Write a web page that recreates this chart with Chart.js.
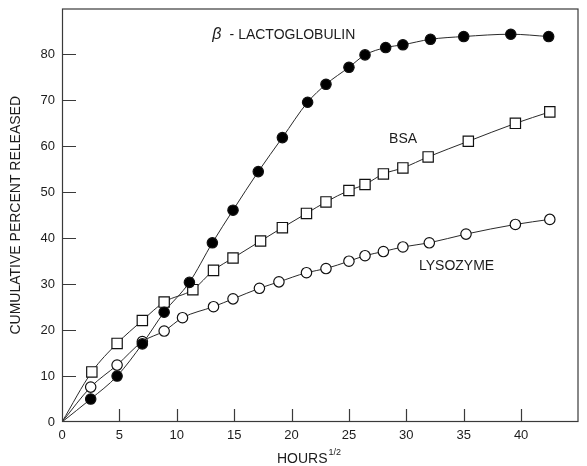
<!DOCTYPE html>
<html>
<head>
<meta charset="utf-8">
<script src="https://cdn.jsdelivr.net/npm/chart.js@4.4.1/dist/chart.umd.min.js"></script>
<style>
  html, body { margin: 0; padding: 0; background: #fff; }
  #wrap { width: 587px; height: 466px; }
</style>
</head>
<body>
<div id="wrap"><canvas id="c" width="587" height="466"></canvas></div>
<script>
// ---- data (x = hours^1/2, y = cumulative percent released) ----
const lactoX = [0, 2.5, 4.8, 7.0, 8.9, 11.1, 13.1, 14.9, 17.1, 19.2, 21.4, 23.0, 25.0, 26.4, 28.2, 29.7, 32.1, 35.0, 39.1, 42.4];
const lactoY = [0, 5.0, 10.0, 17.0, 23.9, 30.4, 39.0, 46.1, 54.5, 61.9, 69.6, 73.5, 77.2, 79.9, 81.5, 82.1, 83.3, 83.9, 84.4, 83.9];
const bsaX   = [0, 2.6, 4.8, 7.0, 8.9, 11.4, 13.2, 14.9, 17.3, 19.2, 21.3, 23.0, 25.0, 26.4, 28.0, 29.7, 31.9, 35.4, 39.5, 42.5];
const bsaY   = [0, 10.9, 17.1, 22.1, 26.1, 28.8, 33.0, 35.7, 39.4, 42.3, 45.4, 47.9, 50.4, 51.7, 54.0, 55.3, 57.7, 61.1, 65.0, 67.5];
const lysoX  = [0, 2.5, 4.8, 7.0, 8.9, 10.5, 13.2, 14.9, 17.2, 18.9, 21.3, 23.0, 25.0, 26.4, 28.0, 29.7, 32.0, 35.2, 39.5, 42.5];
const lysoY  = [0, 7.6, 12.4, 17.5, 19.8, 22.7, 25.1, 26.8, 29.1, 30.5, 32.5, 33.4, 35.0, 36.2, 37.1, 38.1, 39.0, 40.9, 43.0, 44.1];

const xTicks = [0, 5, 10, 15, 20, 25, 30, 35, 40];
const yTicks = [0, 10, 20, 30, 40, 50, 60, 70, 80];

const seriesNames = ['LACTOGLOBULIN', 'BSA', 'LYSOZYME'];
const yTitle = 'CUMULATIVE PERCENT RELEASED';
const xTitle = 'HOURS';
const xTitleSup = '1/2';

function pts(xs, ys) { return xs.map((x, i) => ({ x: x, y: ys[i] })); }

const FONT = '"Liberation Sans", Arial, Helvetica, sans-serif';
const INK = '#1c1c1c';

const frameAndTicks = {
  id: 'frameAndTicks',
  afterDraw(chart) {
    const ctx = chart.ctx;
    const a = chart.chartArea;
    const xs = chart.scales.x, ys = chart.scales.y;
    ctx.save();
    ctx.strokeStyle = '#3a3a3a';
    ctx.lineWidth = 1.2;
    ctx.strokeRect(a.left + 0.5, a.top + 0.5, a.right - a.left - 1, a.bottom - a.top - 1);
    ctx.beginPath();
    yTicks.forEach(v => {
      if (v === 0) return;
      const py = Math.round(ys.getPixelForValue(v)) + 0.5;
      ctx.moveTo(a.left, py); ctx.lineTo(a.left + 14, py);
    });
    xTicks.forEach(v => {
      if (v === 0) return;
      const px = Math.round(xs.getPixelForValue(v)) + 0.5;
      ctx.moveTo(px, a.bottom); ctx.lineTo(px, a.bottom - 13);
    });
    ctx.stroke();

    // x-axis title with superscript
    ctx.fillStyle = INK;
    ctx.textBaseline = 'alphabetic';
    ctx.textAlign = 'left';
    ctx.font = '14px ' + FONT;
    const tx = 277, ty = 463;
    ctx.fillText(xTitle, tx, ty);
    const w = ctx.measureText(xTitle).width;
    ctx.font = '9px ' + FONT;
    ctx.fillText(xTitleSup, tx + w + 1, ty - 8);

    // curve labels, positioned in data space
    ctx.textBaseline = 'middle';
    ctx.font = 'italic 16px ' + FONT;
    const bx = xs.getPixelForValue(13.1), by = ys.getPixelForValue(84.3);
    ctx.fillText('\u03B2', bx, by);
    ctx.font = '14px ' + FONT;
    ctx.fillText('- ' + seriesNames[0], xs.getPixelForValue(14.6), by);
    ctx.fillText(seriesNames[1], xs.getPixelForValue(28.5), ys.getPixelForValue(61.6));
    ctx.fillText(seriesNames[2], xs.getPixelForValue(31.1), ys.getPixelForValue(34.0));
    ctx.restore();
  }
};

const lineCommon = {
  showLine: true,
  borderColor: '#2a2a2a',
  borderWidth: 1,
  cubicInterpolationMode: 'monotone',
  pointBorderColor: '#111',
  pointBorderWidth: 1.2,
  pointHoverRadius: 0
};

new Chart(document.getElementById('c'), {
  type: 'scatter',
  data: {
    datasets: [
      Object.assign({}, lineCommon, {
        label: seriesNames[0],
        data: pts(lactoX, lactoY),
        pointStyle: 'circle',
        pointBackgroundColor: '#000',
        pointRadius: ctx => ctx.dataIndex === 0 ? 0 : 5.2
      }),
      Object.assign({}, lineCommon, {
        label: seriesNames[1],
        data: pts(bsaX, bsaY),
        pointStyle: 'rect',
        pointBackgroundColor: '#fff',
        pointRadius: ctx => ctx.dataIndex === 0 ? 0 : 7.3
      }),
      Object.assign({}, lineCommon, {
        label: seriesNames[2],
        data: pts(lysoX, lysoY),
        pointStyle: 'circle',
        pointBackgroundColor: '#fff',
        pointRadius: ctx => ctx.dataIndex === 0 ? 0 : 5.2
      })
    ]
  },
  options: {
    responsive: false,
    animation: false,
    layout: { padding: { left: 0, right: 5, top: 7, bottom: 0 } },
    plugins: { legend: { display: false }, tooltip: { enabled: false } },
    scales: {
      x: {
        type: 'linear',
        min: 0, max: 45,
        afterBuildTicks: s => { s.ticks = xTicks.map(v => ({ value: v })); },
        afterFit: s => { s.height = 44; s.paddingLeft = 0; s.paddingRight = 0; },
        grid: { display: false, drawTicks: false },
        border: { display: false },
        ticks: { color: INK, font: { family: FONT, size: 13 }, padding: 6, maxRotation: 0, autoSkip: false }
      },
      y: {
        type: 'linear',
        min: 0, max: 90,
        afterBuildTicks: s => { s.ticks = yTicks.map(v => ({ value: v })); },
        afterFit: s => { s.width = 62; s.paddingTop = 0; s.paddingBottom = 0; },
        grid: { display: false, drawTicks: false },
        border: { display: false },
        ticks: { color: INK, font: { family: FONT, size: 13 }, padding: 7, autoSkip: false },
        title: { display: true, text: yTitle, color: INK, font: { family: FONT, size: 14 }, padding: { top: 8, bottom: 0 } }
      }
    }
  },
  plugins: [frameAndTicks]
});
</script>
</body>
</html>
